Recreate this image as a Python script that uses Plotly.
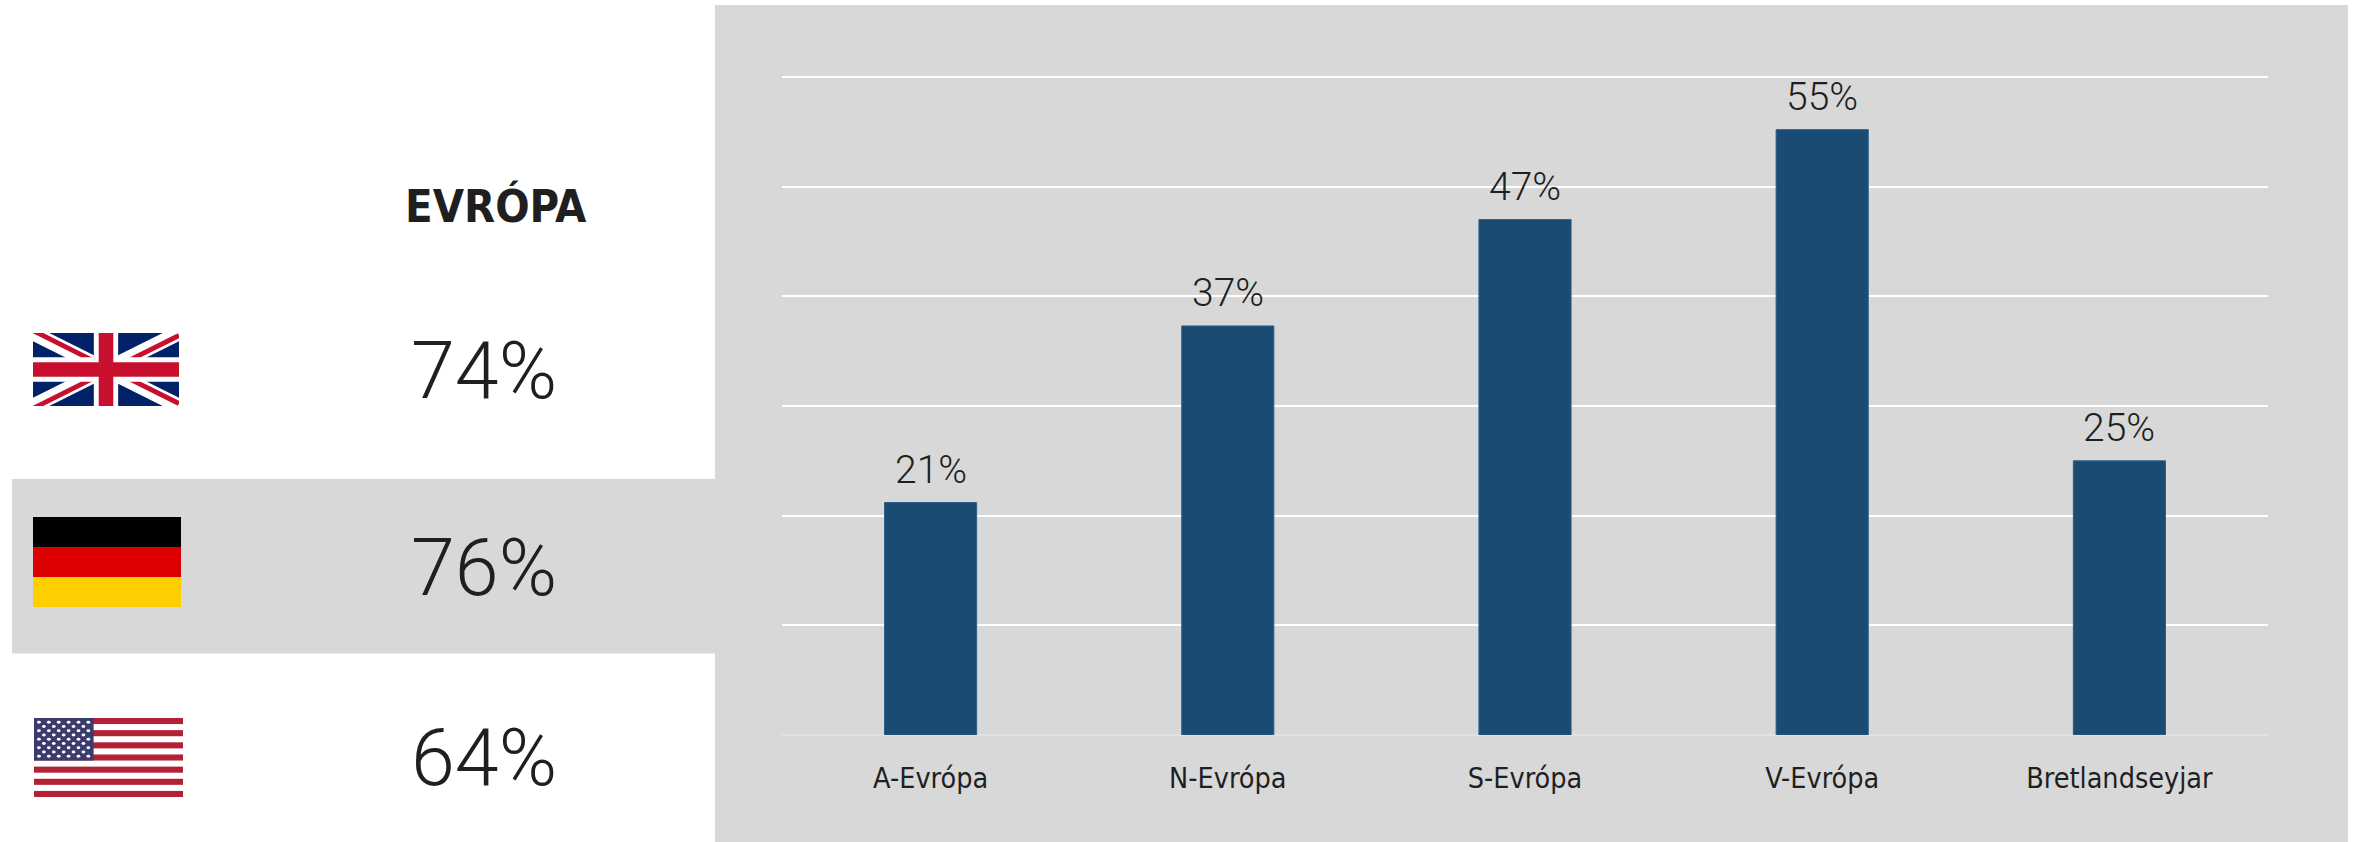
import base64
import plotly.graph_objects as go

W, H = 2361, 842

regions = ["A-Evrópa", "N-Evrópa", "S-Evrópa", "V-Evrópa", "Bretlandseyjar"]
shares = [21.2, 37.3, 47.0, 55.2, 25.0]
share_labels = ["21%", "37%", "47%", "55%", "25%"]
y_ticks = [0, 10, 20, 30, 40, 50, 60]

panel_title = "EVRÓPA"
country_values = ["74%", "76%", "64%"]

GRAY = "#d8d8d8"
BAR = "#1a4b73"
INK = "#1f1f1f"
NARROW = "DejaVu Sans Condensed"
LIGHT = "Roboto"


def px(x):
    return x / W


def py(y):
    return 1 - y / H


def svg_uri(body, w, h):
    svg = (f'<svg xmlns="http://www.w3.org/2000/svg" viewBox="0 0 {w} {h}" '
           f'preserveAspectRatio="none" width="{w}" height="{h}">{body}</svg>')
    return "data:image/svg+xml;base64," + base64.b64encode(svg.encode()).decode()


uk = (
    '<rect width="60" height="30" fill="#012169"/>'
    '<path d="M0,0 L60,30 M60,0 L0,30" stroke="#fff" stroke-width="6"/>'
    '<path d="M0,0 L30,15 M60,30 L30,15" stroke="#c8102e" stroke-width="2" transform="translate(0,-1)"/>'
    '<path d="M60,0 L30,15 M0,30 L30,15" stroke="#c8102e" stroke-width="2" transform="translate(0,1)"/>'
    '<path d="M30,0 V30 M0,15 H60" stroke="#fff" stroke-width="10"/>'
    '<path d="M30,0 V30 M0,15 H60" stroke="#c8102e" stroke-width="6"/>'
)
de = (
    '<rect width="50" height="10" y="0" fill="#000"/>'
    '<rect width="50" height="10" y="10" fill="#dd0000"/>'
    '<rect width="50" height="10" y="20" fill="#ffce00"/>'
)
us = '<rect width="190" height="130" fill="#fff"/>'
for i in range(0, 13, 2):
    us += f'<rect y="{i * 10}" width="190" height="10" fill="#b22234"/>'
us += '<rect width="76" height="70" fill="#3c3b6e"/>'
for r in range(9):
    cols = 6 if r % 2 == 0 else 5
    off = 6.3 if r % 2 == 0 else 12.6
    for c in range(cols):
        us += f'<circle cx="{off + c * 12.6:.1f}" cy="{7 * (r + 1):.1f}" r="2.4" fill="#fff"/>'

flags = [
    (uk, 60, 30, 33, 333, 146, 73),
    (de, 50, 30, 33, 517, 148, 90),
    (us, 190, 130, 34, 718, 149, 79),
]

fig = go.Figure(
    go.Bar(
        x=regions, y=shares, width=0.31,
        marker=dict(color=BAR, line=dict(color="#2f5f88", width=1)),
        hoverinfo="x+y",
    )
)

annotations = []
for region, value, label in zip(regions, shares, share_labels):
    annotations.append(dict(
        x=region, y=value, text=label, showarrow=False, xanchor="center", yanchor="bottom", yshift=8,
        font=dict(family=LIGHT, size=39, color=INK, weight=300),
    ))
annotations.append(dict(
    xref="paper", yref="paper", x=px(496), y=py(206), text=panel_title,
    showarrow=False, xanchor="center", yanchor="middle",
    font=dict(family=NARROW, size=45, color=INK, weight=700),
))
for value, yc in zip(country_values, [371, 568, 758]):
    annotations.append(dict(
        xref="paper", yref="paper", x=px(484), y=py(yc), text=value, showarrow=False,
        xanchor="center", yanchor="middle",
        font=dict(family=LIGHT, size=79, color=INK, weight=300),
    ))

shapes = [
    dict(type="rect", xref="paper", yref="paper", layer="below", line_width=0, fillcolor=GRAY,
         x0=px(715), x1=px(2348), y0=py(842), y1=py(5)),
    dict(type="rect", xref="paper", yref="paper", layer="below", line_width=0, fillcolor=GRAY,
         x0=px(12), x1=px(715), y0=py(653.5), y1=py(479)),
]

images = [
    dict(source=svg_uri(b, vw, vh), xref="paper", yref="paper", x=px(x), y=py(y),
         sizex=w / W, sizey=h / H, xanchor="left", yanchor="top", sizing="stretch", layer="above")
    for b, vw, vh, x, y, w, h in flags
]

fig.update_layout(
    width=W, height=H, margin=dict(l=0, r=0, t=0, b=0),
    paper_bgcolor="white", plot_bgcolor="rgba(0,0,0,0)",
    showlegend=False, annotations=annotations, shapes=shapes, images=images,
    bargap=0.69,
    xaxis=dict(domain=[px(782), px(2268)], showgrid=False, ticks="outside", ticklen=18,
               tickcolor="rgba(0,0,0,0)", showline=False, zeroline=False,
               tickfont=dict(family=NARROW, size=28.5, color=INK)),
    yaxis=dict(domain=[py(735), py(735 - 658 * 60.5 / 60)], range=[0, 60.5], tickvals=y_ticks,
               showticklabels=False, showgrid=True, gridcolor="white", gridwidth=2, zeroline=True,
               zerolinecolor="#e2e2e2", zerolinewidth=2, ticks=""),
)

fig.write_html("out.html", config={"displayModeBar": False},
               post_script="document.body.style.margin='0';")
